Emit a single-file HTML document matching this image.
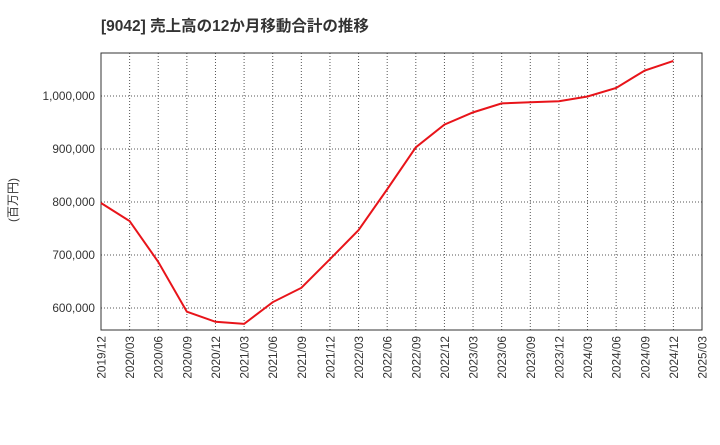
<!DOCTYPE html>
<html><head><meta charset="utf-8"><style>
body{margin:0;background:#fff;}
svg text{font-family:"Liberation Sans","Noto Sans CJK JP",sans-serif;}
</style></head><body>
<svg id="chart" width="720" height="440" xmlns="http://www.w3.org/2000/svg">
<text x="101" y="31" font-size="15.5" font-weight="bold" fill="#333">[9042]  売上高の12か月移動合計の推移</text>
<text transform="translate(17,200) rotate(-90)" text-anchor="middle" font-size="12" fill="#333">(百万円)</text>
<g id="grid"></g><g id="axes"></g><g id="series"></g>
</svg>
<script>
const categories=["2019/12","2020/03","2020/06","2020/09","2020/12","2021/03","2021/06","2021/09","2021/12","2022/03","2022/06","2022/09","2022/12","2023/03","2023/06","2023/09","2023/12","2024/03","2024/06","2024/09","2024/12","2025/03"];
const salesValues=[798000,764000,687000,593000,574000,570000,611000,638000,692000,747000,824000,903000,946000,969000,986000,988000,990000,999000,1015000,1048000,1066000];
const yTicks=[600000,700000,800000,900000,1000000];
const yTickLabels=["600,000","700,000","800,000","900,000","1,000,000"];
const NS="http://www.w3.org/2000/svg";
const L=101,R=702,T=53,B=330,yMin=558500,yMax=1081000;
const x=i=>L+(R-L)*i/(categories.length-1);
const y=v=>B-(v-yMin)/(yMax-yMin)*(B-T);
function mk(t,a,p){const e=document.createElementNS(NS,t);for(const k in a)e.setAttribute(k,a[k]);p.appendChild(e);return e;}
const grid=document.getElementById('grid'),axes=document.getElementById('axes'),series=document.getElementById('series');
categories.forEach((c,i)=>{
 if(i>0&&i<categories.length-1){const g=mk('line',{x1:x(i),x2:x(i),y1:T,y2:B,stroke:'#555','stroke-dasharray':'1,2','stroke-width':1},grid);
 
 }
 const t=mk('text',{transform:`translate(${x(i)+4.5},${B+6}) rotate(-90)`,'text-anchor':'end','font-size':11.8,fill:'#333'},axes);
 t.textContent=c;
 
 
});
yTicks.forEach((v,i)=>{
 const g=mk('line',{x1:L,x2:R,y1:y(v),y2:y(v),stroke:'#555','stroke-dasharray':'1,2','stroke-width':1},grid);
 
 
 const t=mk('text',{x:L-6,y:y(v)+4,'text-anchor':'end','font-size':11.8,fill:'#333'},axes);
 t.textContent=yTickLabels[i];
 
 
});
const fr=mk('rect',{x:L,y:T,width:R-L,height:B-T,fill:'none',stroke:'#333','stroke-width':1},axes);


const ln=mk('polyline',{points:salesValues.map((v,i)=>x(i)+','+y(v)).join(' '),fill:'none',stroke:'#e8141a','stroke-width':2},series);


</script>
</body></html>
